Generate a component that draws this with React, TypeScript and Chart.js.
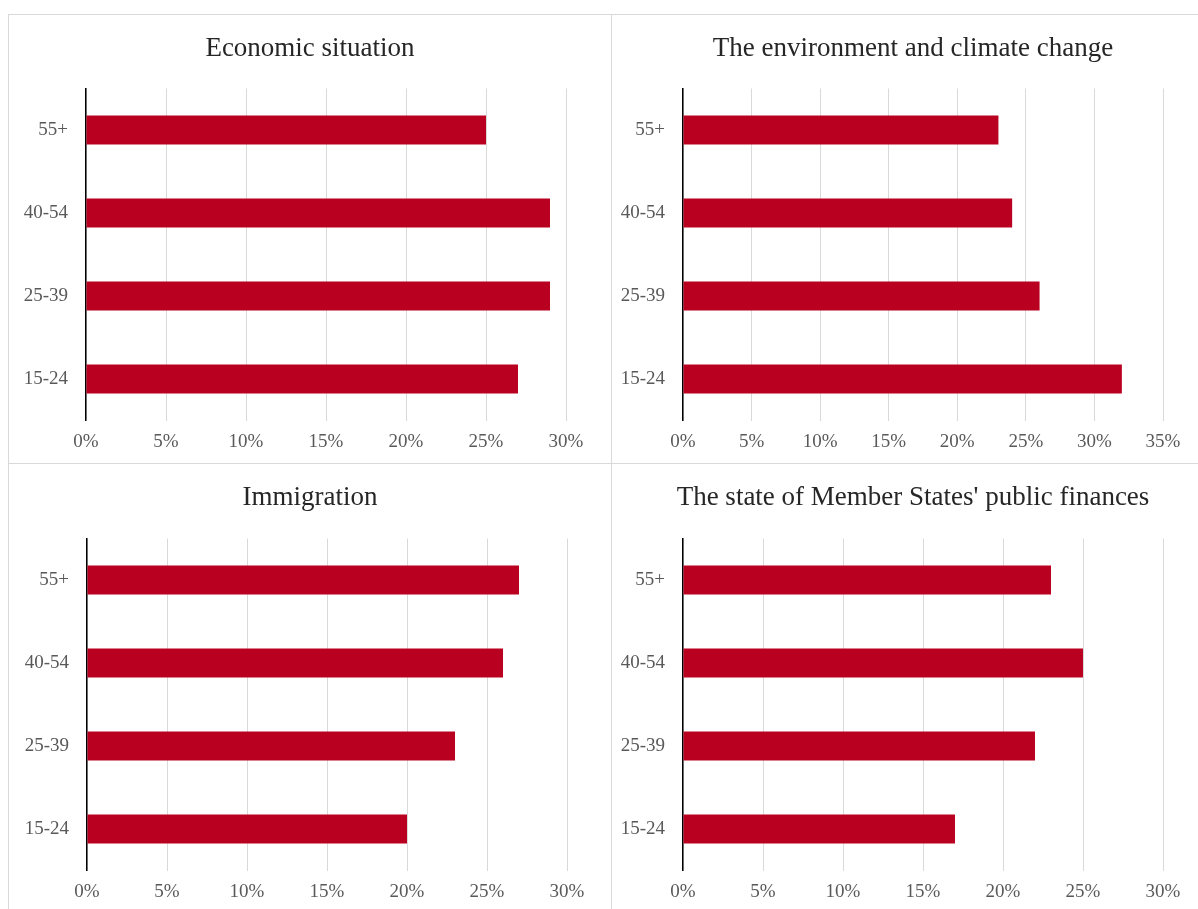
import React, { useEffect, useRef } from "react";
import { Chart, registerables } from "chart.js";

Chart.register(...registerables);

const categories = ["55+", "40-54", "25-39", "15-24"];
const economicValues = [25, 29, 29, 27];
const environmentValues = [23, 24, 26, 32];
const immigrationValues = [27, 26, 23, 20];
const financesValues = [23, 25, 22, 17];
const panelTitles = [
  "Economic situation",
  "The environment and climate change",
  "Immigration",
  "The state of Member States' public finances",
];
const axisMaxima = [30, 35, 30, 30];

const BAR_COLOR = "#ba0020";
const GRID_COLOR = "#d9d9d9";
const TICK_COLOR = "#595959";
const TITLE_COLOR = "#262626";
const FONT = "'Liberation Serif', 'Times New Roman', serif";

const CW = 602;
const CH = 447;

type PanelSpec = {
  left: number;
  top: number;
  title: string;
  values: number[];
  max: number;
  axisX: number;
  rightPad: number;
  plotTop: number;
  plotBottom: number;
  borderTop: boolean;
  borderLeft: boolean;
};

function Panel({ spec }: { spec: PanelSpec }) {
  const ref = useRef<HTMLCanvasElement | null>(null);
  useEffect(() => {
    if (!ref.current) return;
    const titleSize = 27;
    const titleLine = titleSize * 1.2;
    const titleCenter = 34;
    const padTop = titleCenter - titleLine / 2;
    const padBottom = spec.plotTop - padTop - titleLine;
    const chart = new Chart(ref.current, {
      type: "bar",
      data: {
        labels: categories,
        datasets: [
          {
            data: spec.values,
            backgroundColor: BAR_COLOR,
            borderWidth: 0,
            barPercentage: 0.35,
            categoryPercentage: 1,
            yAxisID: "y",
          },
        ],
      },
      options: {
        indexAxis: "y",
        animation: false,
        responsive: false,
        maintainAspectRatio: false,
        layout: { padding: 0 },
        plugins: {
          legend: { display: false },
          tooltip: { enabled: false },
          title: {
            display: true,
            text: spec.title,
            color: TITLE_COLOR,
            font: { family: FONT, size: titleSize, weight: "normal" },
            padding: { top: padTop, bottom: padBottom },
          },
        },
        scales: {
          x: {
            min: 0,
            max: spec.max,
            ticks: {
              stepSize: 5,
              color: TICK_COLOR,
              font: { family: FONT, size: 19 },
              padding: 10,
              callback: (v: any) => `${v}%`,
            },
            grid: { color: GRID_COLOR, lineWidth: 1, drawTicks: false },
            border: { display: false },
            afterFit: (scale: any) => {
              scale.height = CH - spec.plotBottom;
            },
          },
          y: {
            ticks: {
              color: TICK_COLOR,
              font: { family: FONT, size: 19 },
              padding: 18,
            },
            grid: { display: false, drawTicks: false },
            border: { display: true, color: "#000000", width: 1.5 },
            afterFit: (scale: any) => {
              scale.width = spec.axisX;
            },
          },
          spacer: {
            type: "category",
            labels: categories,
            position: "right",
            axis: "y",
            ticks: { display: false },
            grid: { display: false, drawTicks: false },
            border: { display: false },
            afterFit: (scale: any) => {
              scale.width = spec.rightPad;
            },
          },
        },
      } as any,
    });
    return () => chart.destroy();
  }, [spec]);

  return (
    <div
      style={{
        position: "absolute",
        left: spec.left,
        top: spec.top,
        width: CW,
        height: CH + 1,
        borderTop: spec.borderTop ? `1px solid ${GRID_COLOR}` : "none",
        borderLeft: spec.borderLeft ? `1px solid ${GRID_COLOR}` : "none",
        borderRight: `1px solid ${GRID_COLOR}`,
        borderBottom: `1px solid ${GRID_COLOR}`,
        background: "#ffffff",
      }}
    >
      <canvas ref={ref} width={CW} height={CH} style={{ width: CW, height: CH, display: "block" }} />
    </div>
  );
}

const specs: PanelSpec[] = [
  {
    left: 8, top: 14, title: panelTitles[0], values: economicValues, max: axisMaxima[0],
    axisX: 77, rightPad: 45, plotTop: 73.5, plotBottom: 405.5, borderTop: true, borderLeft: true,
  },
  {
    left: 612, top: 14, title: panelTitles[1], values: environmentValues, max: axisMaxima[1],
    axisX: 71, rightPad: 51, plotTop: 73.5, plotBottom: 405.5, borderTop: true, borderLeft: false,
  },
  {
    left: 8, top: 464, title: panelTitles[2], values: immigrationValues, max: axisMaxima[2],
    axisX: 78, rightPad: 44, plotTop: 74.5, plotBottom: 406.5, borderTop: false, borderLeft: true,
  },
  {
    left: 612, top: 464, title: panelTitles[3], values: financesValues, max: axisMaxima[3],
    axisX: 71, rightPad: 51, plotTop: 74.5, plotBottom: 406.5, borderTop: false, borderLeft: false,
  },
];

export default function App() {
  return (
    <div
      style={{
        position: "fixed",
        left: 0,
        top: 0,
        width: 1198,
        height: 909,
        overflow: "hidden",
        background: "#ffffff",
      }}
    >
      {specs.map((s, i) => (
        <Panel key={i} spec={s} />
      ))}
    </div>
  );
}
